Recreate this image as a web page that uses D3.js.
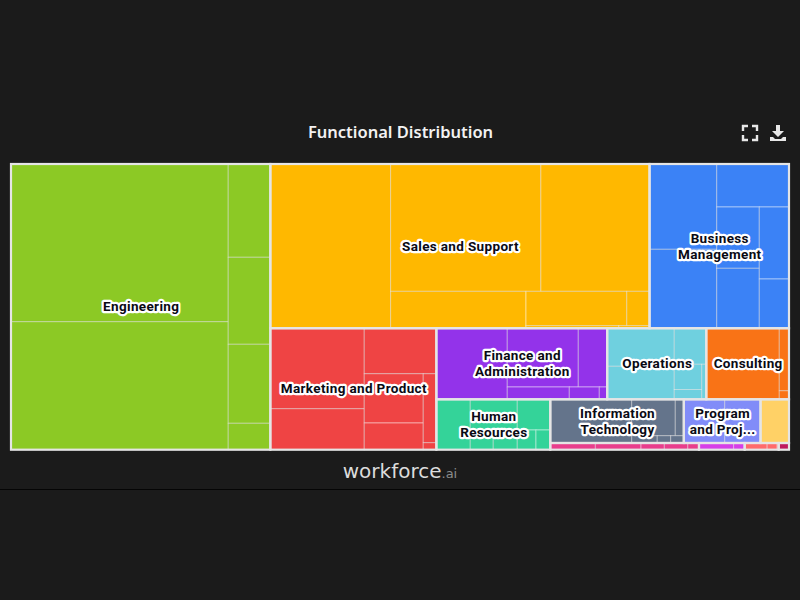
<!DOCTYPE html>
<html>
<head>
<meta charset="utf-8">
<script src="https://cdn.jsdelivr.net/npm/d3@7"></script>
<style>
  html, body { margin: 0; background: #1b1b1b; }
  svg { display: block; }
</style>
</head>
<body>
<div id="chart"></div>
<script>
// Cell sizes, one list per department
const engineering = [34269, 27814, 3928, 3663, 3326, 1111];
const salesSupport = [19753, 19133, 13850, 4993, 3454, 782, 241, 80];
const businessMgmt = [5732, 5302, 3109, 2611, 2552, 2138, 1461];
const marketingProduct = [7559, 3850, 3281, 2909, 1575, 904, 92];
const financeAdmin = [5041, 4175, 1699, 763, 369, 97];
const operations = [2557, 2214, 1155, 690, 269, 161];
const consulting = [5190, 606, 83];
const humanResources = [1709, 1443, 453, 473, 1013, 368, 282];
const infoTech = [3557, 1587, 309, 187, 98, 96];
const programProject = [1787, 1565];
const yellowGroup = [1245];
const pinkGroup = [302, 306, 156, 157, 75];
const magentaGroup = [232, 74];
const coralGroup = [151, 67, 10];
const crimsonGroup = [69];

const groupValues = [engineering, salesSupport, businessMgmt, marketingProduct, financeAdmin,
  operations, consulting, humanResources, infoTech, programProject, yellowGroup, pinkGroup,
  magentaGroup, coralGroup, crimsonGroup];

const groupLabels = [["Engineering"], ["Sales and Support"], ["Business", "Management"],
  ["Marketing and Product"], ["Finance and", "Administration"], ["Operations"], ["Consulting"],
  ["Human", "Resources"], ["Information", "Technology"], ["Program", "and Proj..."],
  [], [], [], [], []];

const groupColors = ["#8cc925", "#ffb800", "#3b82f6", "#ef4444", "#9333ea", "#6fd0df", "#f97316",
  "#34d399", "#64748b", "#818cf8", "#ffd166", "#e83e8c", "#d63fe8", "#ff6b6b", "#be185d"];

// How each box is cut: "x" = side by side, "y" = stacked, numbers index the lists above
const groupSplit = ["x", 0, ["y", ["x", 1, 2], ["x", 3, ["y", ["x", 4, 5, 6], ["x", 7, ["y", ["x", 8, 9, 10], ["x", 11, 12, 13, 14]]]]]]];
const cellSplits = [
  ["x", ["y", 0, 1], ["y", 2, 3, 4, 5]],
  ["x", 0, ["y", ["x", 1, 2], ["x", 3, ["y", ["x", 4, 5], ["x", 6, 7]]]]],
  ["x", ["y", 0, 1], ["y", 2, ["x", ["y", 3, 4], ["y", 5, 6]]]],
  ["x", ["y", 0, 1], ["y", 2, ["x", ["y", 3, 4], ["y", 5, 6]]]],
  ["x", 0, ["y", ["x", 1, 2], ["x", 3, 4, 5]]],
  ["x", ["y", 0, 1], ["y", 2, ["x", ["y", 3, 4], 5]]],
  ["x", 0, ["y", 1, 2]],
  ["x", 0, ["y", 1, ["x", 2, 3]], ["y", 4, ["x", 5, 6]]],
  ["x", 0, ["y", ["x", 1, 2], ["x", 3, 4, 5]]],
  ["x", 0, 1],
  ["x", 0],
  ["x", 0, 1, 2, 3, 4],
  ["x", 0, 1],
  ["x", 0, 1, 2],
  ["x", 0]
];

const width = 800;
const height = 600;
const map = { left: 11, top: 164, width: 778, height: 285.7 };

const svg = d3.select("#chart").append("svg")
  .attr("width", width)
  .attr("height", height);

// Turn a split recipe into hierarchy nodes
function buildCells(split, values, group) {
  if (typeof split === "number") return { value: values[split], group };
  return { dir: split[0], children: split.slice(1).map(s => buildCells(s, values, group)) };
}
function buildGroups(split) {
  if (typeof split === "number") {
    return { ...buildCells(cellSplits[split], groupValues[split], split), isGroup: true, group: split };
  }
  return { dir: split[0], children: split.slice(1).map(buildGroups) };
}

const root = d3.hierarchy(buildGroups(groupSplit))
  .sum(d => d.value || 0);

d3.treemap()
  .size([map.width, map.height])
  .tile((node, x0, y0, x1, y1) => {
    const tile = node.data.dir === "x" ? d3.treemapDice : d3.treemapSlice;
    tile(node, x0, y0, x1, y1);
  })(root);

const plot = svg.append("g").attr("transform", `translate(${map.left},${map.top})`);

plot.selectAll(".cell")
  .data(root.leaves())
  .enter()
  .append("rect")
  .attr("class", "cell")
  .attr("x", d => d.x0)
  .attr("y", d => d.y0)
  .attr("width", d => d.x1 - d.x0)
  .attr("height", d => d.y1 - d.y0)
  .attr("fill", d => groupColors[d.data.group])
  .attr("stroke", "rgba(255,255,255,0.45)")
  .attr("stroke-width", 1);

const groups = root.descendants().filter(d => d.data.isGroup);

plot.selectAll(".group")
  .data(groups)
  .enter()
  .append("rect")
  .attr("class", "group")
  .attr("x", d => d.x0)
  .attr("y", d => d.y0)
  .attr("width", d => d.x1 - d.x0)
  .attr("height", d => d.y1 - d.y0)
  .attr("fill", "none")
  .attr("stroke", "#e5e5e5")
  .attr("stroke-width", 2.2);

// Labels with a white halo
const labels = plot.selectAll(".label")
  .data(groups.filter(d => groupLabels[d.data.group].length))
  .enter()
  .append("text")
  .attr("class", "label")
  .attr("text-anchor", "middle")
  .attr("font-family", "Roboto, sans-serif")
  .attr("font-size", 13.5)
  .attr("font-weight", 700)
  .attr("letter-spacing", 0.35)
  .attr("fill", "#0a0a14")
  .attr("stroke", "#fff")
  .attr("stroke-width", 4.4)
  .attr("stroke-linejoin", "round")
  .attr("paint-order", "stroke");

labels.selectAll("tspan")
  .data(d => groupLabels[d.data.group].map((line, i, all) => ({
    line,
    x: (d.x0 + d.x1) / 2 + 0.5,
    y: (d.y0 + d.y1) / 2 + (i - (all.length - 1) / 2) * 16 + 4.5
  })))
  .enter()
  .append("tspan")
  .attr("x", d => d.x)
  .attr("y", d => d.y)
  .text(d => d.line);

// Title
svg.append("text")
  .attr("x", 400.5)
  .attr("y", 138)
  .attr("text-anchor", "middle")
  .attr("font-family", "'Noto Sans', sans-serif")
  .attr("font-size", 16.5)
  .attr("font-weight", 600)
  .attr("fill", "#f2f2f2")
  .text("Functional Distribution");

// Toolbar icons
svg.append("path")
  .attr("d", "M743 131V126H748M752 126H757V131M757 135V140H752M748 140H743V135")
  .attr("fill", "none")
  .attr("stroke", "#e8e8e8")
  .attr("stroke-width", 2.4);

svg.append("path")
  .attr("d", "M776 125H780V131H784L778 137L772 131H776ZM770 137H773L775 139H781L783 137H786V141H770Z")
  .attr("fill", "#e8e8e8");

// Wordmark
const brand = svg.append("text")
  .attr("x", 400)
  .attr("y", 478)
  .attr("text-anchor", "middle")
  .attr("font-family", "'DejaVu Sans', sans-serif");

brand.append("tspan")
  .attr("font-size", 20)
  .attr("fill", "#dcdcdc")
  .text("workforce");

brand.append("tspan")
  .attr("font-size", 13)
  .attr("fill", "#8c8c8c")
  .text(".ai");

svg.append("line")
  .attr("x1", 0)
  .attr("x2", width)
  .attr("y1", 489.5)
  .attr("y2", 489.5)
  .attr("stroke", "#050505")
  .attr("stroke-width", 1);
</script>
</body>
</html>
